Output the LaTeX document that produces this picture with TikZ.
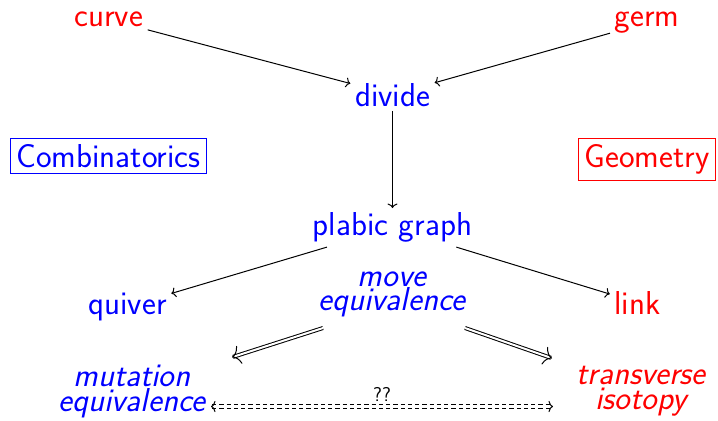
\documentclass[tikz,border=0pt]{standalone}
\usepackage{xcolor}
\usepackage{tikz}
\usetikzlibrary{calc,arrows.meta}
\definecolor{combc}{HTML}{0000FF}
\definecolor{geomc}{HTML}{FF0000}
\tikzset{
  big/.style={font=\fontsize{26.5}{19.8}\selectfont\sffamily,align=center},
  slant/.style={font=\fontsize{26.5}{19.8}\selectfont\sffamily\itshape,align=center},
  comb/.style={text=combc},
  geom/.style={text=geomc},
  ar/.style={-{To[length=3.6pt,width=8pt]}},
  imp/.style={-{To[length=6.5pt,width=15pt]},double,double distance=1.6pt},
  dbldash/.style={{To[length=3.6pt,width=9pt]}-{To[length=3.6pt,width=9pt]},double,double distance=2pt,dash pattern=on 3.4pt off 2.4pt}
}

\begin{document}
\begin{tikzpicture}[x=0.8pt,y=-0.8pt,line width=0.8pt]
\useasboundingbox (0,0) rectangle (718,420);
% top row
\node[big,geom,anchor=base] (curve) at (108.7,26.7) {curve};
\node[big,geom,anchor=base] (germ) at (647,26.7) {germ};
\node[big,comb,anchor=base] (divide) at (392.5,106) {divide};
% side labels
\node[big,comb,draw=combc,anchor=base,inner sep=5pt] (combi) at (108.5,167.3) {Combinatorics};
\node[big,geom,draw=geomc,anchor=base,inner sep=5pt] (geo) at (647,167.3) {Geometry};
% middle
\node[big,comb,anchor=base] (plabic) at (392.5,235.7) {plabic graph};
\node[big,comb,anchor=base] (quiver) at (127.5,314) {quiver};
\node[big,geom,anchor=base] (link) at (637.5,314) {link};
\node[slant,comb] (move) at (392,294.5) {move\\equivalence};
% bottom
\node[slant,comb] (mut) at (132,391.2) {mutation\\equivalence};
\node[slant,geom] (trans) at (641,391.2) {transverse\\isotopy};
\draw[ar] (curve) -- (divide);
\draw[ar] (germ) -- (divide);
\draw[ar] (divide) -- (plabic);
\draw[ar] (plabic) -- (quiver);
\draw[ar] (plabic) -- (link);
\draw[imp] ([shift={(-69,33.5)}]move.center) -- ([shift={(100,-34)}]mut.center);
\draw[imp] ([shift={(73,33.5)}]move.center) -- ([shift={(-89,-33)}]trans.center);
\draw[dbldash] ([shift={(79,15.3)}]mut.center) -- ([shift={(-88,15.3)}]trans.center)
  node[midway,above,font=\fontsize{16}{19}\selectfont\sffamily] (qq) {??};
\end{tikzpicture}
\end{document}
